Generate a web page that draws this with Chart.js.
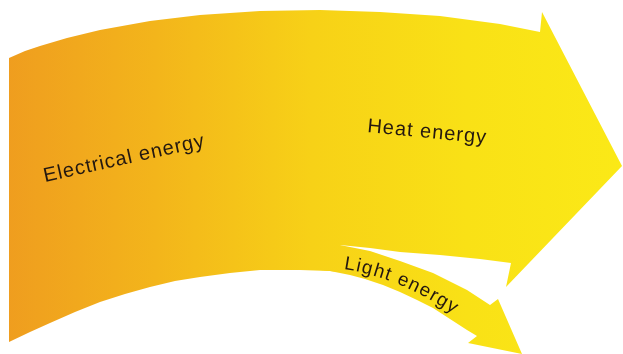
<!DOCTYPE html>
<html lang="en">
<head>
  <meta charset="UTF-8" />
  <title>Energy transfer in a lamp</title>
  <script src="https://cdn.jsdelivr.net/npm/chart.js@4"></script>
  <style>
    body {
      margin: 0;
      background: #ffffff;
    }
    #wrap {
      width: 623px;
      height: 354px;
    }
  </style>
</head>
<body>
  <div id="wrap"><canvas id="flow"></canvas></div>

  <script>
    // outline of the incoming electrical flow that carries on as the heat arrow
    const heatOutline = [
      {x: 9, y: 58}, {x: 25, y: 51}, {x: 40, y: 46}, {x: 67, y: 38}, {x: 100, y: 30},
      {x: 150, y: 21}, {x: 200, y: 15}, {x: 260, y: 11}, {x: 320, y: 10}, {x: 380, y: 12},
      {x: 440, y: 16}, {x: 500, y: 24}, {x: 540, y: 32},
      {x: 542, y: 12}, {x: 622, y: 166}, {x: 506, y: 287}, {x: 511, y: 263},
      {x: 480, y: 259}, {x: 440, y: 255}, {x: 400, y: 252}, {x: 370, y: 248}, {x: 340, y: 245},
      {x: 340, y: 272}, {x: 320, y: 270}, {x: 290, y: 270}, {x: 260, y: 270}, {x: 230, y: 273},
      {x: 200, y: 277}, {x: 175, y: 281}, {x: 150, y: 287}, {x: 125, y: 294}, {x: 100, y: 302},
      {x: 75, y: 312}, {x: 50, y: 323}, {x: 30, y: 332}, {x: 9, y: 342}, {x: 9, y: 58}
    ];

    // the smaller branch that becomes the light arrow
    const lightOutline = [
      {x: 300, y: 245}, {x: 340, y: 245}, {x: 370, y: 251}, {x: 400, y: 261}, {x: 433, y: 273},
      {x: 467, y: 290}, {x: 490, y: 305},
      {x: 498, y: 299}, {x: 522, y: 354}, {x: 468, y: 343}, {x: 477, y: 336},
      {x: 467, y: 330}, {x: 450, y: 319}, {x: 433, y: 308}, {x: 417, y: 300}, {x: 400, y: 292},
      {x: 383, y: 285}, {x: 365, y: 279}, {x: 350, y: 275}, {x: 330, y: 271}, {x: 300, y: 270},
      {x: 300, y: 245}
    ];

    const flowLabels = ['Electrical energy', 'Heat energy', 'Light energy'];

    let grad = null;
    function flowFill(context) {
      const chart = context.chart;
      const area = chart.chartArea;
      if (!area) return '#f6c418';
      if (!grad) {
        grad = chart.ctx.createLinearGradient(area.left, 0, area.right, 0);
        grad.addColorStop(0, '#ef9c1f');
        grad.addColorStop(0.25, '#f3b51b');
        grad.addColorStop(0.5, '#f7d117');
        grad.addColorStop(0.75, '#f9e116');
        grad.addColorStop(1, '#fbe917');
      }
      return grad;
    }

    // writes the three labels onto the arrows
    const labelPlugin = {
      id: 'flowLabels',
      afterDatasetsDraw(chart) {
        const c = chart.ctx;
        const xs = chart.scales.x, ys = chart.scales.y;
        c.save();
        c.fillStyle = '#241810';
        c.textBaseline = 'alphabetic';
        c.textAlign = 'left';
        c.letterSpacing = '1px';

        c.font = '20px "Liberation Sans", Arial, sans-serif';
        c.save();
        c.translate(xs.getPixelForValue(45), ys.getPixelForValue(182));
        c.rotate(-12.5 * Math.PI / 180);
        c.fillText(flowLabels[0], 0, 0);
        c.restore();

        c.font = '20px "Liberation Sans", Arial, sans-serif';
        c.save();
        c.translate(xs.getPixelForValue(367), ys.getPixelForValue(132));
        c.rotate(5.5 * Math.PI / 180);
        c.fillText(flowLabels[1], 0, 0);
        c.restore();

        // light label follows the bend of its arrow
        c.letterSpacing = '0px';
        c.font = '19px "Liberation Sans", Arial, sans-serif';
        const p0 = {x: 343, y: 269}, p1 = {x: 403, y: 277}, p2 = {x: 468, y: 324};
        const text = flowLabels[2];
        const pt = t => ({
          x: (1 - t) * (1 - t) * p0.x + 2 * (1 - t) * t * p1.x + t * t * p2.x,
          y: (1 - t) * (1 - t) * p0.y + 2 * (1 - t) * t * p1.y + t * t * p2.y
        });
        // approximate arc length table
        const steps = 200, lens = [0];
        let prev = pt(0);
        for (let i = 1; i <= steps; i++) {
          const p = pt(i / steps);
          lens.push(lens[i - 1] + Math.hypot(p.x - prev.x, p.y - prev.y));
          prev = p;
        }
        const tAt = d => {
          for (let i = 1; i <= steps; i++) if (lens[i] >= d) return i / steps;
          return 1;
        };
        let dist = 0;
        for (const ch of text) {
          const w = c.measureText(ch).width + 1.3;
          const t = tAt(dist + w / 2);
          const p = pt(t);
          const dx = 2 * (1 - t) * (p1.x - p0.x) + 2 * t * (p2.x - p1.x);
          const dy = 2 * (1 - t) * (p1.y - p0.y) + 2 * t * (p2.y - p1.y);
          c.save();
          c.translate(xs.getPixelForValue(p.x), ys.getPixelForValue(p.y));
          c.rotate(Math.atan2(dy, dx));
          c.textAlign = 'center';
          c.fillText(ch, 0, 0);
          c.restore();
          dist += w;
        }
        c.restore();
      }
    };

    new Chart(document.getElementById('flow'), {
      type: 'scatter',
      data: {
        datasets: [
          {
            label: 'Heat',
            data: heatOutline,
            showLine: true,
            fill: 'shape',
            backgroundColor: flowFill,
            borderWidth: 0,
            borderColor: 'rgba(0,0,0,0)',
            pointRadius: 0,
            tension: 0
          },
          {
            label: 'Light',
            data: lightOutline,
            showLine: true,
            fill: 'shape',
            backgroundColor: flowFill,
            borderWidth: 0,
            borderColor: 'rgba(0,0,0,0)',
            pointRadius: 0,
            tension: 0
          }
        ]
      },
      options: {
        animation: false,
        responsive: true,
        maintainAspectRatio: false,
        layout: { padding: 0 },
        scales: {
          x: { type: 'linear', min: 0, max: 623, display: false },
          y: { type: 'linear', min: 0, max: 354, reverse: true, display: false }
        },
        plugins: {
          legend: { display: false },
          tooltip: { enabled: false }
        }
      },
      plugins: [labelPlugin]
    });
  </script>
</body>
</html>
